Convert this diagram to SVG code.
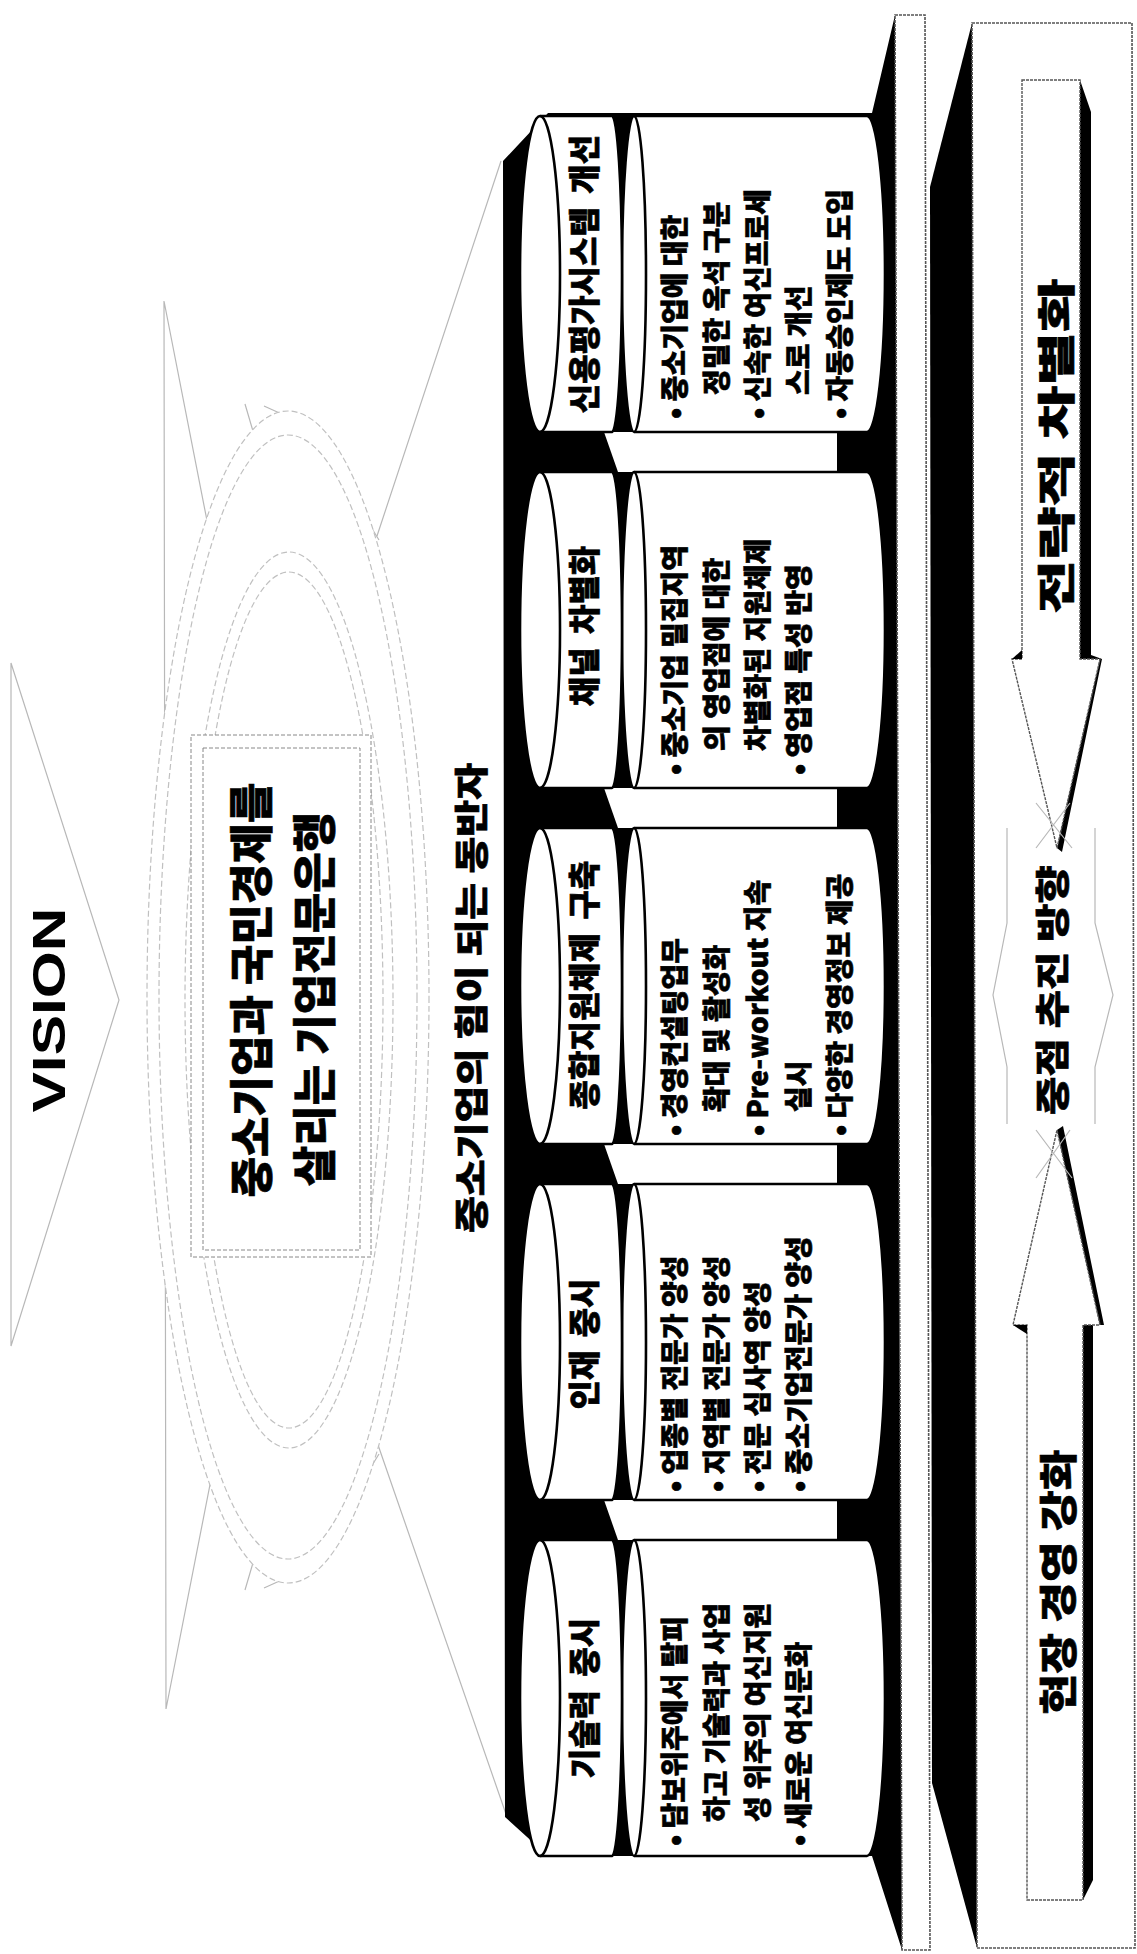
<svg xmlns="http://www.w3.org/2000/svg" width="1137" height="1954" viewBox="0 0 1137 1954">
<style>
.faint{fill:none;stroke:#b8b8b8;stroke-width:1.2}
.ring{fill:#fff;stroke:#c0c0c0;stroke-width:1.2;stroke-dasharray:6 3}
.blk{fill:#000;stroke:none}
.can{fill:#fff;stroke:#000;stroke-width:2.6;stroke-linejoin:round}
.arc{fill:none;stroke:#000;stroke-width:2.6}
.dot{fill:#fff;stroke:#555;stroke-width:1.6;stroke-dasharray:3 1}
.kr{font-family:"Noto Sans CJK KR","Noto Sans",sans-serif;font-weight:900;fill:#000;stroke:#000;stroke-width:0.6}
.ttl{font-size:32px;word-spacing:6px}
.bd{font-size:28px}
</style>
<rect width="1137" height="1954" fill="#fff"/>

<!-- background decorative star / funnel -->
<g id="decor">
  <path class="faint" d="M11,663 L11,1346 L119,1000 Z"/>
  <path class="faint" d="M164,301 L166,1709 M164,301 L210,536 M166,1709 L216,1454"/>
  <path class="faint" d="M501,161 L377,536 M507,1817 L377,1442"/>
  <path class="faint" d="M245,404 L268,482 M264,406 L295,420 M321,446 L379,540 M245,1590 L268,1512 M264,1588 L295,1574 M321,1548 L379,1454"/>
  <ellipse class="ring" cx="288" cy="997" rx="141" ry="586"/>
  <ellipse class="ring" cx="288" cy="997" rx="129" ry="562"/>
  <ellipse class="ring" cx="289" cy="1000" rx="104" ry="448"/>
  <ellipse class="ring" cx="289" cy="1000" rx="94" ry="428"/>
</g>

<g id="vision">
  <text transform="translate(49,1010) rotate(-90)" text-anchor="middle" dominant-baseline="central" style="font-family:'Liberation Sans',Arial,sans-serif;font-size:46px;font-weight:700" textLength="205" lengthAdjust="spacingAndGlyphs">VISION</text>
</g>

<g id="mission">
  <rect x="191" y="735" width="180" height="522" fill="#fff" stroke="#888" stroke-width="1" stroke-dasharray="4 2"/>
  <rect x="203" y="748" width="157" height="502" fill="none" stroke="#888" stroke-width="1" stroke-dasharray="4 2"/>
  <text class="kr" transform="translate(249,990) rotate(-90)" text-anchor="middle" dominant-baseline="central" style="font-size:44px">중소기업과 국민경제를</text>
  <text class="kr" transform="translate(312,999) rotate(-90)" text-anchor="middle" dominant-baseline="central" style="font-size:44px">살리는 기업전문은행</text>
</g>

<g id="partner">
  <text class="kr" transform="translate(469,998) rotate(-90)" text-anchor="middle" dominant-baseline="central" style="font-size:34px" textLength="470" lengthAdjust="spacingAndGlyphs">중소기업의 힘이 되는 동반자</text>
</g>

<!-- platform -->
<g id="platform">
  <polygon class="blk" points="503,161 548,113 872,113 895,15 902,1950 872,1856 548,1856 505,1817"/>
  <polygon class="dot" points="895,15 925,15 930,1950 902,1950"/>
  <polygon class="blk" points="972,23 930,187 932,1783 977,1948"/>
  <polygon class="dot" points="972,23 1132,23 1135,1948 977,1948"/>
  <polygon fill="#fff" points="604,432 837,432 837,472 618,472"/>
  <polygon fill="#fff" points="604,788 837,788 837,828 618,828"/>
  <polygon fill="#fff" points="604,1144 837,1144 837,1184 618,1184"/>
  <polygon fill="#fff" points="604,1500 837,1500 837,1540 618,1540"/>
</g>

<!-- nodes -->
<g id="node1">
  <path class="can" d="M634,116 H867 A18,158 0 0 1 867,432 H634 A12,158 0 0 1 634,116 Z"/>
  <path class="arc" d="M634,116 A12,158 0 0 1 634,432"/>
  <path class="can" d="M540,116 H612 A10,158 0 0 1 612,432 H540 A20,158 0 0 1 540,116 Z"/>
  <path class="arc" d="M540,116 A20,158 0 0 1 540,432"/>
  <text class="kr ttl" transform="translate(582,274) rotate(-90)" text-anchor="middle" dominant-baseline="central">신용평가시스템 개선</text>
  <text class="kr bd" transform="translate(673,419) rotate(-90)" dominant-baseline="central">• 중소기업에 대한</text>
  <text class="kr bd" transform="translate(715,395) rotate(-90)" dominant-baseline="central">정밀한 옥석 구분</text>
  <text class="kr bd" transform="translate(756,419) rotate(-90)" dominant-baseline="central">• 신속한 여신프로세</text>
  <text class="kr bd" transform="translate(797,395) rotate(-90)" dominant-baseline="central">스로 개선</text>
  <text class="kr bd" transform="translate(838,419) rotate(-90)" dominant-baseline="central">• 자동승인제도 도입</text>
</g>

<g id="node2">
  <path class="can" d="M634,472 H867 A18,158 0 0 1 867,788 H634 A12,158 0 0 1 634,472 Z"/>
  <path class="arc" d="M634,472 A12,158 0 0 1 634,788"/>
  <path class="can" d="M540,472 H612 A10,158 0 0 1 612,788 H540 A20,158 0 0 1 540,472 Z"/>
  <path class="arc" d="M540,472 A20,158 0 0 1 540,788"/>
  <text class="kr ttl" transform="translate(582,626) rotate(-90)" text-anchor="middle" dominant-baseline="central">채널 차별화</text>
  <text class="kr bd" transform="translate(673,775) rotate(-90)" dominant-baseline="central">• 중소기업 밀집지역</text>
  <text class="kr bd" transform="translate(715,751) rotate(-90)" dominant-baseline="central">의 영업점에 대한</text>
  <text class="kr bd" transform="translate(756,751) rotate(-90)" dominant-baseline="central">차별화된 지원체제</text>
  <text class="kr bd" transform="translate(797,775) rotate(-90)" dominant-baseline="central">• 영업점 특성 반영</text>
</g>

<g id="node3">
  <path class="can" d="M634,828 H867 A18,158 0 0 1 867,1144 H634 A12,158 0 0 1 634,828 Z"/>
  <path class="arc" d="M634,828 A12,158 0 0 1 634,1144"/>
  <path class="can" d="M540,828 H612 A10,158 0 0 1 612,1144 H540 A20,158 0 0 1 540,828 Z"/>
  <path class="arc" d="M540,828 A20,158 0 0 1 540,1144"/>
  <text class="kr ttl" transform="translate(582,985) rotate(-90)" text-anchor="middle" dominant-baseline="central">종합지원체제 구축</text>
  <text class="kr bd" transform="translate(673,1136) rotate(-90)" dominant-baseline="central">• 경영컨설팅업무</text>
  <text class="kr bd" transform="translate(715,1112) rotate(-90)" dominant-baseline="central">확대 및 활성화</text>
  <text class="kr bd" transform="translate(756,1136) rotate(-90)" dominant-baseline="central">• Pre-workout 지속</text>
  <text class="kr bd" transform="translate(797,1112) rotate(-90)" dominant-baseline="central">실시</text>
  <text class="kr bd" transform="translate(838,1136) rotate(-90)" dominant-baseline="central">• 다양한 경영정보 제공</text>
</g>

<g id="node4">
  <path class="can" d="M634,1184 H867 A18,158 0 0 1 867,1500 H634 A12,158 0 0 1 634,1184 Z"/>
  <path class="arc" d="M634,1184 A12,158 0 0 1 634,1500"/>
  <path class="can" d="M540,1184 H612 A10,158 0 0 1 612,1500 H540 A20,158 0 0 1 540,1184 Z"/>
  <path class="arc" d="M540,1184 A20,158 0 0 1 540,1500"/>
  <text class="kr ttl" transform="translate(582,1344) rotate(-90)" text-anchor="middle" dominant-baseline="central">인재 중시</text>
  <text class="kr bd" transform="translate(673,1492) rotate(-90)" dominant-baseline="central">• 업종별 전문가 양성</text>
  <text class="kr bd" transform="translate(715,1492) rotate(-90)" dominant-baseline="central">• 지역별 전문가 양성</text>
  <text class="kr bd" transform="translate(756,1492) rotate(-90)" dominant-baseline="central">• 전문 심사역 양성</text>
  <text class="kr bd" transform="translate(797,1492) rotate(-90)" dominant-baseline="central">• 중소기업전문가 양성</text>
</g>

<g id="node5">
  <path class="can" d="M634,1540 H867 A18,158 0 0 1 867,1856 H634 A12,158 0 0 1 634,1540 Z"/>
  <path class="arc" d="M634,1540 A12,158 0 0 1 634,1856"/>
  <path class="can" d="M540,1540 H612 A10,158 0 0 1 612,1856 H540 A20,158 0 0 1 540,1540 Z"/>
  <path class="arc" d="M540,1540 A20,158 0 0 1 540,1856"/>
  <text class="kr ttl" transform="translate(582,1698) rotate(-90)" text-anchor="middle" dominant-baseline="central">기술력 중시</text>
  <text class="kr bd" transform="translate(673,1846) rotate(-90)" dominant-baseline="central">• 담보위주에서 탈피</text>
  <text class="kr bd" transform="translate(715,1822) rotate(-90)" dominant-baseline="central">하고 기술력과 사업</text>
  <text class="kr bd" transform="translate(756,1822) rotate(-90)" dominant-baseline="central">성 위주의 여신지원</text>
  <text class="kr bd" transform="translate(797,1846) rotate(-90)" dominant-baseline="central">• 새로운 여신문화</text>
</g>

<!-- direction arrows -->
<g id="connectors">
  <g id="arrow-top">
    <polygon class="blk" points="1080,80 1091,112 1091,655 1102,659 1062,852 1057,848 1080,659"/>
    <polygon fill="#fff" stroke="#555" stroke-width="1.4" stroke-dasharray="3 1" points="1022,80 1080,80 1080,659 1100,659 1057,848 1012,659 1022,659"/>
    <polygon class="blk" points="1012,659 1022,650 1022,659"/>
  </g>
  <g id="arrow-bottom">
    <polygon class="blk" points="1083,1900 1093,1880 1093,1325 1104,1325 1063,1126 1057,1130 1083,1325"/>
    <polygon fill="#fff" stroke="#555" stroke-width="1.4" stroke-dasharray="3 1" points="1027,1900 1083,1900 1083,1325 1100,1325 1057,1130 1013,1325 1027,1325"/>
    <polygon class="blk" points="1013,1325 1027,1334 1027,1325"/>
  </g>
  <g id="hexagon">
    <path class="faint" d="M1007,828 L1007,923 L993,995 L1007,1067 L1007,1124 M1095,828 L1095,923 L1113,995 L1095,1067 L1095,1124"/>
    <path class="faint" d="M1036,803 L1072,848 M1070,803 L1036,848 M1036,1130 L1072,1178 M1070,1130 L1036,1178"/>
  </g>
</g>

<g id="labels">
  <text class="kr" transform="translate(1053,446) rotate(-90)" text-anchor="middle" dominant-baseline="central" style="font-size:38px" textLength="335" lengthAdjust="spacingAndGlyphs">전략적 차별화</text>
  <text class="kr" transform="translate(1050,990) rotate(-90)" text-anchor="middle" dominant-baseline="central" style="font-size:34px" textLength="250" lengthAdjust="spacingAndGlyphs">중점 추진 방향</text>
  <text class="kr" transform="translate(1055,1582) rotate(-90)" text-anchor="middle" dominant-baseline="central" style="font-size:38px" textLength="265" lengthAdjust="spacingAndGlyphs">현장 경영 강화</text>
</g>
</svg>
